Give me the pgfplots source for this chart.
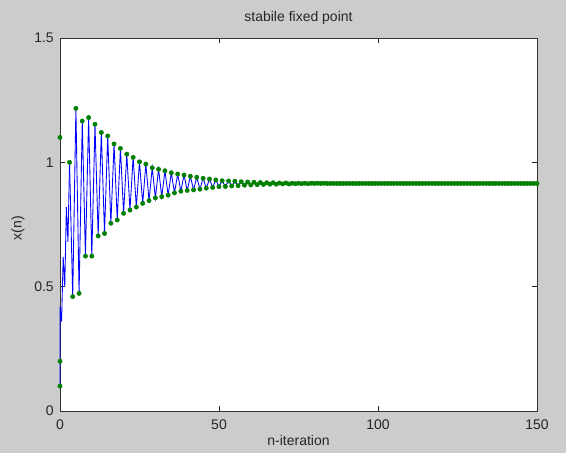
\documentclass[border=0pt]{standalone}
\usepackage{pgfplots}
\pgfplotsset{compat=1.18}
\usepackage{pgfplotstable}
\usepackage{fontspec}
\setmainfont{Liberation Sans}
\definecolor{mgreen}{RGB}{0,128,0}
\definecolor{figgray}{RGB}{204,204,204}

\pgfplotstableread{
n x
3 1.000
4 0.460
5 1.217
6 0.473
7 1.166
8 0.623
9 1.180
10 0.623
11 1.153
12 0.704
13 1.120
14 0.714
15 1.106
16 0.755
17 1.074
18 0.768
19 1.056
20 0.795
21 1.033
22 0.808
23 1.020
24 0.820
25 1.002
26 0.835
27 0.993
28 0.846
29 0.978
30 0.857
31 0.972
32 0.862
33 0.966
34 0.868
35 0.958
36 0.877
37 0.953
38 0.884
39 0.949
40 0.887
41 0.944
42 0.889
43 0.940
44 0.892
45 0.936
46 0.896
47 0.933
48 0.899
49 0.929
50 0.902
51 0.926
52 0.903
53 0.925
54 0.905
55 0.924
56 0.906
57 0.922
58 0.908
59 0.921
60 0.909
61 0.920
62 0.910
63 0.919
64 0.911
65 0.918
66 0.912
67 0.918
68 0.912
69 0.917
70 0.913
71 0.917
72 0.913
73 0.916
74 0.914
75 0.916
76 0.914
77 0.916
78 0.914
79 0.916
80 0.915
81 0.916
82 0.915
83 0.916
84 0.915
85 0.915
86 0.915
87 0.915
88 0.915
89 0.915
90 0.915
91 0.915
92 0.915
93 0.915
94 0.915
95 0.915
96 0.915
97 0.915
98 0.915
99 0.915
100 0.915
101 0.915
102 0.915
103 0.915
104 0.915
105 0.915
106 0.915
107 0.915
108 0.915
109 0.915
110 0.915
111 0.915
112 0.915
113 0.915
114 0.915
115 0.915
116 0.915
117 0.915
118 0.915
119 0.915
120 0.915
121 0.915
122 0.915
123 0.915
124 0.915
125 0.915
126 0.915
127 0.915
128 0.915
129 0.915
130 0.915
131 0.915
132 0.915
133 0.915
134 0.915
135 0.915
136 0.915
137 0.915
138 0.915
139 0.915
140 0.915
141 0.915
142 0.915
143 0.915
144 0.915
145 0.915
146 0.915
147 0.915
148 0.915
149 0.915
150 0.915
}\iterdata

\begin{document}
\begin{tikzpicture}[x=1pt,y=1pt]
\fill[figgray] (0,0) rectangle (424.5,339.75);
\begin{axis}[
  at={(45pt,31.5pt)}, anchor=south west,
  scale only axis, width=357.75pt, height=279.75pt,
  xmin=0, xmax=150, ymin=0, ymax=1.5,
  xtick={0,50,100,150}, xticklabels={0,50,100,150},
  ytick={0,0.5,1,1.5}, yticklabels={0,0.5,1,1.5},
  tick align=inside, tick pos=both, major tick length=4pt,
  tick style={black!85, line width=0.6pt},
  axis line style={black!80, line width=0.7pt},
  axis background/.style={fill=white},
  /pgf/number format/assume math mode=true,
  font=\fontsize{10.5}{12}\selectfont,
  every tick label/.append style={font=\fontsize{10.5}{12}\selectfont, text=black!85},
  xticklabel style={anchor=base, yshift=-13.5pt, inner sep=0pt},
  yticklabel style={anchor=east, xshift=-4.5pt, inner sep=0pt},
  title={stabile fixed point},
  title style={at={(axis description cs:0.5,1)}, anchor=base, yshift=6pt, font=\fontsize{10.5}{12}\selectfont, text=black!85},
  xlabel={n-iteration},
  xlabel style={at={(axis description cs:0.5,0)}, anchor=base, yshift=-25.5pt, font=\fontsize{10.5}{12}\selectfont, text=black!85},
  ylabel={x(n)},
  ylabel style={at={(axis description cs:-0.088,0.49)}, anchor=center, font=\fontsize{10.5}{12}\selectfont, text=black!85},
  clip=false,
]
\addplot[blue, line width=0.65pt, no marks] coordinates {
(0,0.10) (0,0.42) (0.5,0.36) (1,0.62) (1.5,0.50) (2,0.82) (2.5,0.68) (3,1.00)
};
\addplot[blue, line width=0.65pt, mark=*, mark size=1.6pt,
  mark options={fill=mgreen, draw=mgreen, line width=0.4pt}] table[x=n, y=x] {\iterdata};
\addplot[only marks, mark=*, mark size=1.6pt, mark options={fill=mgreen, draw=mgreen, line width=0.4pt}] coordinates {
(0,0.10) (0,0.20) (0,1.10)
};
\end{axis}
\end{tikzpicture}
\end{document}
